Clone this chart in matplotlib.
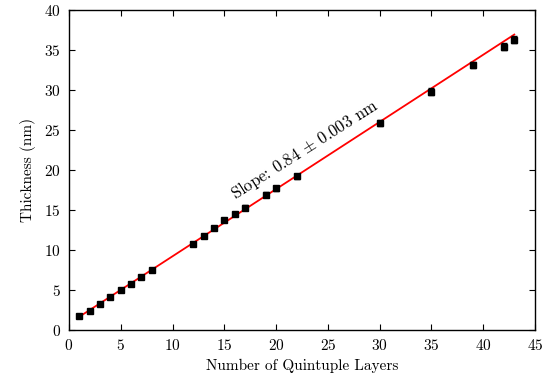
import numpy as np
import matplotlib
matplotlib.use("Agg")
import matplotlib.pyplot as plt

plt.rcParams["font.family"] = "serif"
plt.rcParams["font.serif"] = ["cmr10"]
plt.rcParams["mathtext.fontset"] = "cm"
plt.rcParams["axes.formatter.use_mathtext"] = True

# Film thickness vs number of quintuple layers
layers = [1, 2, 3, 4, 5, 6, 7, 8, 12, 13, 14, 15, 16, 17, 19, 20, 22, 30, 35, 39, 42, 43]
thickness = [1.7, 2.4, 3.3, 4.1, 5.0, 5.8, 6.6, 7.5, 10.8, 11.7, 12.7, 13.7,
             14.5, 15.3, 16.9, 17.7, 19.2, 25.9, 29.8, 33.1, 35.4, 36.3]
errors = [0.1, 0.1, 0.1, 0.1, 0.1, 0.1, 0.15, 0.15, 0.2, 0.2, 0.2, 0.25,
          0.25, 0.3, 0.3, 0.3, 0.3, 0.35, 0.4, 0.4, 0.45, 0.45]

slope = 0.84
intercept = 0.82

fig = plt.figure(figsize=(5.49, 3.88), dpi=100)
ax = fig.add_axes([0.1257, 0.1495, 0.8488, 0.8245])

fit_x = np.array([layers[0], layers[-1]])
ax.plot(fit_x, slope * fit_x + intercept, color="red", lw=1.3, zorder=1)
ax.errorbar(layers, thickness, yerr=errors, fmt="s", color="black",
            ms=4, capsize=2.2, elinewidth=1.0, capthick=1.0, zorder=2)

ax.text(22.8, 22.6, r"Slope: 0.84 $\pm$ 0.003 nm", rotation=32.5,
        rotation_mode="anchor", ha="center", va="center", fontsize=12)

ax.set_xlim(0, 45)
ax.set_ylim(0, 40)
ax.set_xticks(np.arange(0, 46, 5))
ax.set_yticks(np.arange(0, 41, 5))
ax.tick_params(direction="in", top=True, right=True, labelsize=11, length=4, pad=6)
ax.set_xlabel("Number of Quintuple Layers", fontsize=11, labelpad=4)
ax.set_ylabel("Thickness (nm)", fontsize=11, labelpad=6)
for s in ax.spines.values():
    s.set_linewidth(1.0)

fig.savefig("out.png", dpi=100)
